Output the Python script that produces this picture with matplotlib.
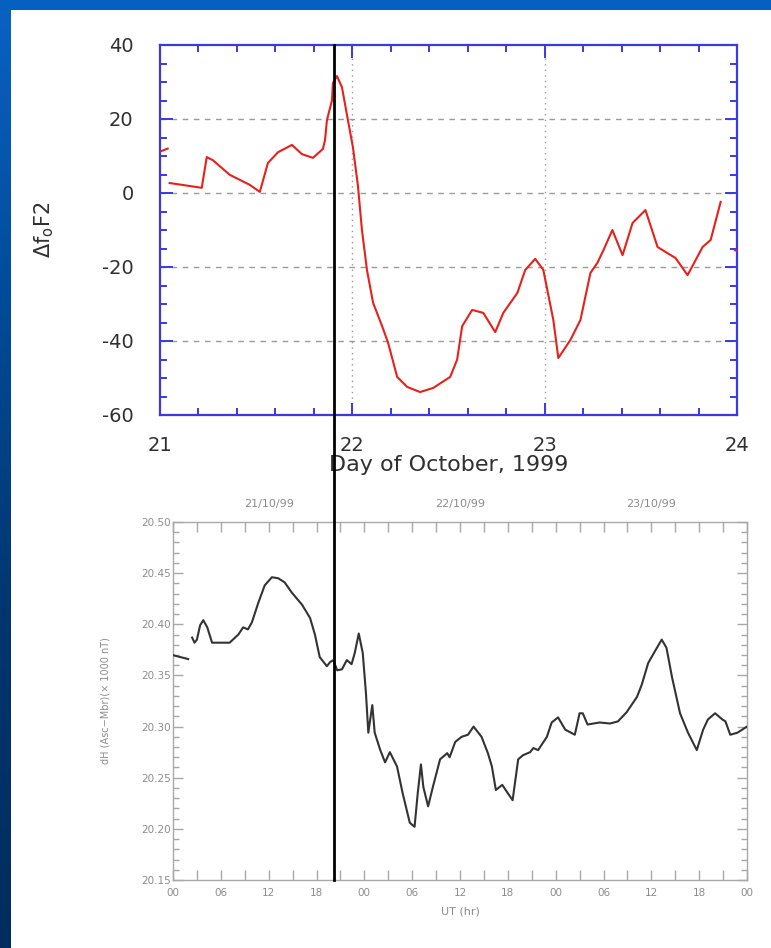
import numpy as np
import matplotlib
matplotlib.use('Agg')
import matplotlib.pyplot as plt
from matplotlib.ticker import MultipleLocator, FixedLocator, FuncFormatter
from matplotlib.transforms import blended_transform_factory
from matplotlib.lines import Line2D
from matplotlib.patches import Rectangle

plt.rcParams['mathtext.fontset'] = 'custom'
plt.rcParams['mathtext.rm'] = 'DejaVu Sans'
plt.rcParams['axes.unicode_minus'] = False

# --- top panel: delta foF2 vs day of October 1999 ---
fof2_day = [21.050, 21.217, 21.243, 21.274, 21.363, 21.467, 21.519, 21.561, 21.613, 21.686,
            21.738, 21.795, 21.847, 21.858, 21.868, 21.894, 21.899, 21.920, 21.946, 21.977,
            22.003, 22.029, 22.050, 22.076, 22.108, 22.155, 22.186, 22.233, 22.285, 22.352,
            22.420, 22.509, 22.545, 22.571, 22.623, 22.681, 22.743, 22.785, 22.858, 22.899,
            22.951, 22.993, 23.045, 23.071, 23.134, 23.186, 23.238, 23.274, 23.306, 23.352,
            23.405, 23.457, 23.524, 23.587, 23.681, 23.743, 23.821, 23.863, 23.915]
fof2_val = [2.7, 1.4, 9.7, 8.9, 4.9, 2.2, 0.3, 8.1, 11, 13,
            10.5, 9.5, 11.9, 14.3, 19.7, 25, 29.7, 31.6, 28.6, 19.7,
            12.4, 2, -10, -20.8, -29.7, -36, -40.5, -49.7, -52.4, -53.8,
            -52.7, -49.7, -45, -36, -31.6, -32.4, -37.6, -32.4, -27, -20.8,
            -17.8, -20.8, -34.3, -44.6, -39.7, -34.3, -21.6, -18.9, -15.4, -10,
            -16.8, -8.1, -4.6, -14.6, -17.6, -22.2, -14.6, -12.7, -2.4]
# stray fragments clipped at the frame edges
edge_left_day = [20.99, 21.04]
edge_left_val = [11.0, 12.0]
edge_right_day = [23.99, 24.03]
edge_right_val = [-15.5, -16.0]

# --- bottom panel: dH (Asc-Mbr) vs UT hours from 21/10/99 00:00 ---
dh_hour_a = [-0.1, 0.9, 1.9]
dh_val_a = [20.370, 20.368, 20.366]
dh_hour = [2.4, 2.7, 3.0, 3.4, 3.8, 4.3, 4.9, 5.9, 7.1, 8.2,
           8.8, 9.4, 9.9, 10.7, 11.5, 12.4, 13.2, 14.0, 14.9, 16.2,
           17.2, 17.8, 18.4, 19.3, 19.7, 20.1, 20.6, 21.2, 21.8, 22.4,
           22.8, 23.3, 23.8, 24.2, 24.5, 25.0, 25.3, 26.0, 26.6, 27.2,
           28.1, 28.8, 29.7, 30.3, 30.7, 31.1, 31.4, 32.0, 32.6, 33.5,
           34.4, 34.7, 35.4, 36.2, 37.0, 37.7, 38.7, 39.5, 40.0, 40.5,
           41.3, 41.9, 42.6, 43.3, 43.9, 44.8, 45.2, 45.8, 46.9, 47.5,
           48.3, 49.2, 50.4, 51.0, 51.4, 52.0, 53.5, 54.8, 55.8, 56.9,
           58.2, 58.8, 59.6, 60.4, 61.3, 61.9, 62.6, 63.6, 64.6, 65.7,
           66.5, 67.1, 68.0, 68.9, 69.3, 69.9, 70.8, 71.4, 72.0]
dh_val = [20.387, 20.382, 20.385, 20.399, 20.404, 20.397, 20.382, 20.382, 20.382, 20.390,
          20.397, 20.395, 20.402, 20.421, 20.438, 20.446, 20.445, 20.441, 20.431, 20.419,
          20.406, 20.390, 20.368, 20.359, 20.363, 20.365, 20.355, 20.356, 20.365, 20.361,
          20.372, 20.391, 20.372, 20.333, 20.294, 20.321, 20.294, 20.277, 20.265, 20.275,
          20.261, 20.235, 20.206, 20.202, 20.235, 20.263, 20.241, 20.222, 20.241, 20.268,
          20.274, 20.270, 20.285, 20.290, 20.292, 20.300, 20.290, 20.274, 20.261, 20.238,
          20.243, 20.236, 20.228, 20.268, 20.272, 20.275, 20.279, 20.277, 20.290, 20.304,
          20.309, 20.297, 20.292, 20.313, 20.313, 20.302, 20.304, 20.303, 20.305, 20.314,
          20.329, 20.341, 20.362, 20.373, 20.385, 20.377, 20.348, 20.313, 20.294, 20.277,
          20.297, 20.307, 20.313, 20.307, 20.305, 20.292, 20.294, 20.297, 20.300]
date_hours = [12, 36, 60]
date_labels = ['21/10/99', '22/10/99', '23/10/99']

storm_day = 21.905   # vertical marker, in top-panel day units

W, H = 771, 948
fig = plt.figure(figsize=(W / 100, H / 100), dpi=100)
fig.patch.set_facecolor('white')

# slide-style blue border (left gradient strip + top band)
bg = fig.add_axes([0, 0, 1, 1], zorder=-5)
bg.set_xlim(0, W)
bg.set_ylim(H, 0)
bg.axis('off')
grad = np.linspace(0, 1, 256).reshape(-1, 1)
cmap = matplotlib.colors.LinearSegmentedColormap.from_list('slide', ['#0a62c4', '#004a96', '#00356e', '#002d5e'])
bg.imshow(grad, cmap=cmap, extent=[0, 11, H, 0], aspect='auto')
bg.add_patch(Rectangle((0, 0), W, 10, color='#0560c0', lw=0))

# ---------------- top panel ----------------
blue = '#3a3ae0'
txt = '#303030'
ax1 = fig.add_axes([160 / W, 1 - 415 / H, 577 / W, 370 / H])
ax1.plot(fof2_day, fof2_val, color='#e8201c', lw=1.5, zorder=3)
ax1.plot(edge_left_day, edge_left_val, color='#e8201c', lw=1.5, zorder=3)
ax1.plot(edge_right_day, edge_right_val, color='#e8201c', lw=1.5, zorder=3)
ax1.set_xlim(21.0, 24.0)
ax1.set_ylim(-60, 40)
ax1.xaxis.set_major_locator(FixedLocator([21, 22, 23, 24]))
ax1.xaxis.set_minor_locator(MultipleLocator(0.2))
ax1.yaxis.set_major_locator(MultipleLocator(20))
ax1.yaxis.set_minor_locator(MultipleLocator(5))
for s in ax1.spines.values():
    s.set_color(blue)
    s.set_linewidth(1.6)
ax1.tick_params(which='both', direction='in', top=True, right=True, color=blue, width=1.4)
ax1.tick_params(which='major', length=9, labelsize=14, labelcolor=txt)
ax1.tick_params(which='minor', length=5)
ax1.tick_params(axis='y', pad=19)
ax1.tick_params(axis='x', pad=15)
for yv in [-40, -20, 0, 20]:
    ax1.axhline(yv, color='#9a9a9a', lw=1.0, ls=(0, (4, 4)), zorder=1)
for xv in [22, 23]:
    ax1.axvline(xv, color='#9a9a9a', lw=1.0, ls=(0, (1, 3)), zorder=1)
ax1.set_xlabel('Day of October, 1999', fontsize=16, color=txt, labelpad=0)
ax1.set_ylabel(r'$\Delta \mathrm{f_oF2}$', fontsize=15, color=txt, labelpad=33)

# ---------------- bottom panel ----------------
grey = '#a8a8a8'
ax2 = fig.add_axes([173 / W, 1 - 880 / H, 574 / W, 358 / H])
ax2.plot(dh_hour_a, dh_val_a, color='#333333', lw=1.5, zorder=3)
ax2.plot(dh_hour, dh_val, color='#333333', lw=1.5, zorder=3)
ax2.set_xlim(0, 72)
ax2.set_ylim(20.15, 20.50)
ax2.xaxis.set_major_locator(MultipleLocator(6))
ax2.xaxis.set_minor_locator(MultipleLocator(3))
ax2.xaxis.set_major_formatter(FuncFormatter(lambda v, p: '%02d' % (int(round(v)) % 24)))
ax2.yaxis.set_major_locator(MultipleLocator(0.05))
ax2.yaxis.set_minor_locator(MultipleLocator(0.01))
ax2.yaxis.set_major_formatter(FuncFormatter(lambda v, p: '%.2f' % v))
for s in ax2.spines.values():
    s.set_color(grey)
    s.set_linewidth(1.0)
ax2.tick_params(which='both', direction='in', top=True, right=True, color=grey, width=1.0,
                labelcolor='#8c8c8c', labelsize=7.5)
ax2.tick_params(which='major', length=7)
ax2.tick_params(which='minor', length=4)
ax2.tick_params(axis='x', which='minor', length=7)
ax2.tick_params(axis='y', pad=1.5)
ax2.tick_params(axis='x', pad=6)
ax2.set_xlabel('UT (hr)', fontsize=8, color='#8c8c8c', labelpad=6)
ax2.set_ylabel('dH (Asc\u2212Mbr)(\u00d7 1000 nT)', fontsize=7, color='#8c8c8c', labelpad=22)

sec = ax2.secondary_xaxis('top')
sec.set_xticks(date_hours)
sec.set_xticklabels(date_labels)
sec.tick_params(length=0, labelcolor='#8c8c8c', labelsize=8, pad=9)
sec.spines['top'].set_visible(False)

# vertical event marker spanning both panels
tr = blended_transform_factory(ax1.transData, fig.transFigure)
fig.add_artist(Line2D([storm_day, storm_day], [1 - 880 / H, 1 - 45 / H], transform=tr,
                      color='black', lw=2.0, zorder=10))

fig.savefig('out.png', dpi=100, facecolor='white')
